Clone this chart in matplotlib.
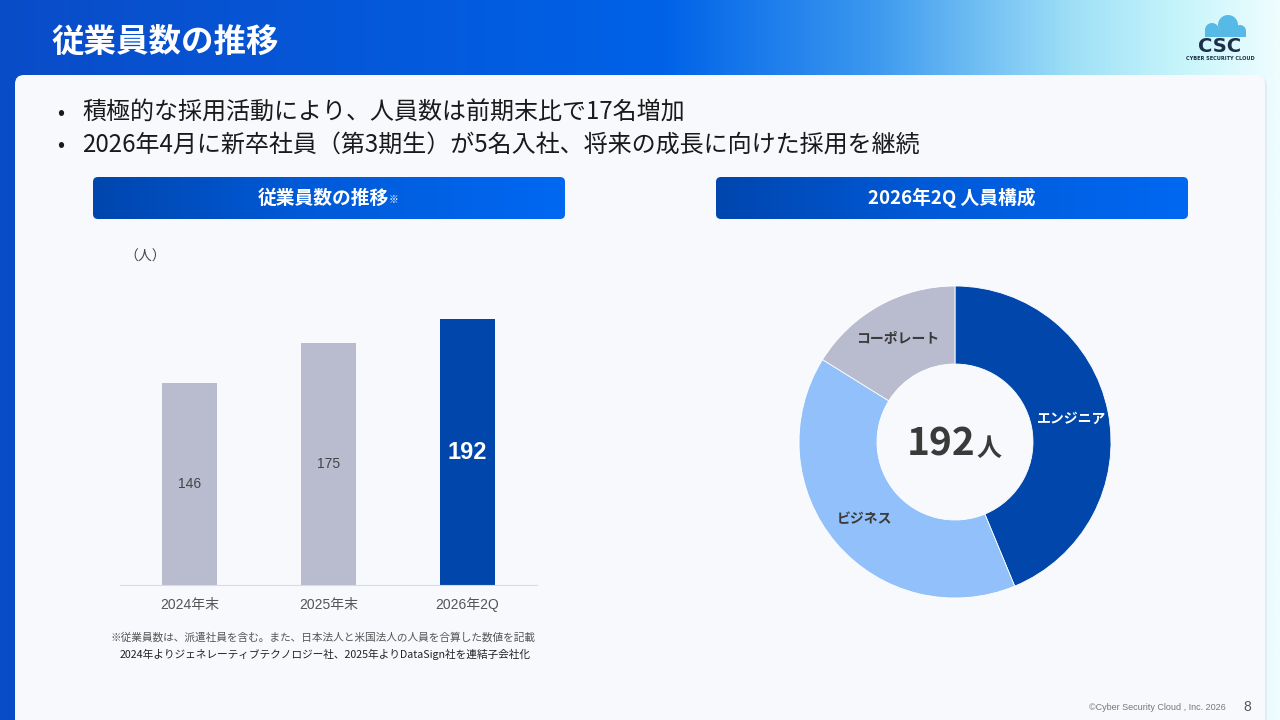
import numpy as np
import matplotlib.pyplot as plt
from matplotlib.patches import FancyBboxPatch, Circle, Rectangle
from matplotlib.colors import LinearSegmentedColormap

plt.rcParams['font.family'] = ['Noto Sans CJK JP', 'DejaVu Sans']

# --- data ---
title = '従業員数の推移'
bullets = ['積極的な採用活動により、人員数は前期末比で17名増加',
           '2026年4月に新卒社員（第3期生）が5名入社、将来の成長に向けた採用を継続']
bar_labels = ['2024年末', '2025年末', '2026年2Q']
bar_values = [146, 175, 192]
bar_colors = ['#b9bccf', '#b9bccf', '#0046ab']
donut_labels = ['エンジニア', 'ビジネス', 'コーポレート']
donut_values = [84, 77, 31]
donut_colors = ['#0046ab', '#92c0fa', '#b9bccf']
donut_text_colors = ['white', '#3a3a3a', '#3a3a3a']
total = 192
notes = ['※従業員数は、派遣社員を含む。また、日本法人と米国法人の人員を合算した数値を記載',
         '2024年よりジェネレーティブテクノロジー社、2025年よりDataSign社を連結子会社化']

fig = plt.figure(figsize=(12.8, 7.2), dpi=100)

# background in pixel coordinates
bg = fig.add_axes([0, 0, 1, 1])
hdr = LinearSegmentedColormap.from_list('hdr', [(0, '#0a4cc8'), (0.52, '#0062e8'), (0.68, '#3a97ef'),
                                                (0.84, '#9fe0f7'), (0.93, '#c9f6fb'), (1, '#effdff')])
bg.imshow(np.linspace(0, 1, 512)[None, :], cmap=hdr, extent=[0, 1280, 720, 0], aspect='auto', zorder=0)
bg.set_xlim(0, 1280)
bg.set_ylim(720, 0)
bg.axis('off')

# white panel
bg.add_patch(FancyBboxPatch((17, 77), 1250, 700, boxstyle='round,pad=0,rounding_size=9',
                            fc='#dde2e8', ec='none', alpha=0.6, zorder=1))
bg.add_patch(FancyBboxPatch((15, 75), 1250, 700, boxstyle='round,pad=0,rounding_size=9',
                            fc='#f7f9fc', ec='none', zorder=1))

bg.text(51, 42, title, color='white', fontsize=23.4, fontweight='bold', va='center', ha='left')

# logo
for cx, cy, r in [(1212, 30, 7), (1228, 25, 10), (1240, 31, 6)]:
    bg.add_patch(Circle((cx, cy), r, fc='#56b9e6', ec='none', zorder=2))
bg.add_patch(Rectangle((1205, 30), 41, 7, fc='#56b9e6', ec='none', zorder=2))
bg.text(1220, 46, 'CSC', color='#1c2e48', fontsize=14, fontweight='bold', ha='center', va='center',
        family='DejaVu Sans')
bg.text(1220, 58, 'CYBER SECURITY CLOUD', color='#1c2e48', fontsize=3.6, ha='center', va='center',
        family='DejaVu Sans', fontweight='bold')

# bullets
for i, b in enumerate(bullets):
    y = 113 + i * 32
    bg.text(57, y, '•', fontsize=15, color='#1a1a1a', ha='left', va='center')
    bg.text(82, y, b, fontsize=17.3, color='#1a1a1a', ha='left', va='center')

# section headers
boxcm = LinearSegmentedColormap.from_list('box', [(0, '#0046ae'), (0.45, '#005ad8'), (1, '#0068f2')])


def section(x0, x1, y0, y1):
    p = FancyBboxPatch((x0, y0), x1 - x0, y1 - y0, boxstyle='round,pad=0,rounding_size=5',
                       fc='none', ec='none', zorder=2)
    bg.add_patch(p)
    im = bg.imshow(np.linspace(0, 1, 256)[None, :], cmap=boxcm, extent=[x0, x1, y1, y0],
                   aspect='auto', zorder=2)
    im.set_clip_path(p)


section(93, 565, 177, 219)
section(716, 1188, 177, 219)
bg.text(323, 198, '従業員数の推移', color='white', fontsize=13.5, fontweight='bold', ha='center', va='center')
bg.text(389, 200, '※', color='white', fontsize=7, ha='left', va='center')
bg.text(952, 198, '2026年2Q 人員構成', color='white', fontsize=13.5, fontweight='bold', ha='center', va='center')
bg.set_xlim(0, 1280)
bg.set_ylim(720, 0)

# bar chart
px = 1.383  # pixels per person
ymax = 200
ax = fig.add_axes([120 / 1280, (720 - 585) / 720, 417 / 1280, ymax * px / 720])
x = np.arange(len(bar_values))
ax.bar(x, bar_values, width=0.40, color=bar_colors)
ax.set_xlim(-0.5, 2.5)
ax.set_ylim(0, ymax)
ax.patch.set_visible(False)
for s in ['top', 'right', 'left']:
    ax.spines[s].set_visible(False)
ax.spines['bottom'].set_color('#d9dbe0')
ax.set_yticks([])
ax.set_xticks(x)
ax.set_xticklabels(bar_labels, fontsize=10, color='#555555', family=['Liberation Sans', 'Noto Sans CJK JP'])
ax.tick_params(axis='x', length=0, pad=9)
for i, v in enumerate(bar_values):
    if i == len(bar_values) - 1:
        ax.text(i, v / 2, str(v), ha='center', va='center', fontsize=17, fontweight='bold',
                color='white', family='Liberation Sans')
    else:
        ax.text(i, v / 2, str(v), ha='center', va='center', fontsize=10, color='#444444',
                family='Liberation Sans')

bg.text(145, 257, '（人）', fontsize=10, color='#444444', ha='center', va='center')
bg.text(110, 638, notes[0], fontsize=7.7, color='#555555', ha='left', va='center')
bg.text(120, 654, notes[1], fontsize=7.7, color='#222222', ha='left', va='center')

# donut
r = 156
dx = fig.add_axes([(955 - r) / 1280, (720 - 442 - r) / 720, 2 * r / 1280, 2 * r / 720])
wedges, _ = dx.pie(donut_values, colors=donut_colors, startangle=90, counterclock=False, radius=1,
                   wedgeprops=dict(width=0.5, edgecolor='white', linewidth=0.6))
dx.set_xlim(-1, 1)
dx.set_ylim(-1, 1)
for w, lab, c in zip(wedges, donut_labels, donut_text_colors):
    ang = np.deg2rad((w.theta1 + w.theta2) / 2)
    dx.text(0.76 * np.cos(ang), 0.76 * np.sin(ang), lab, ha='center', va='center', fontsize=10,
            fontweight='bold', color=c)

bg.text(975, 456, str(total), fontsize=28, fontweight='bold', color='#3a3a3a', ha='right', va='baseline')
bg.text(976, 456, '人', fontsize=18, fontweight='bold', color='#3a3a3a', ha='left', va='baseline')

# footer
bg.text(1226, 707, '©Cyber Security Cloud , Inc. 2026', fontsize=6.5, color='#777777', ha='right',
        va='center', family='Liberation Sans')
bg.text(1247, 707, '8', fontsize=10, color='#555555', ha='center', va='center', family='Liberation Sans')

fig.savefig('out.png', dpi=100)
